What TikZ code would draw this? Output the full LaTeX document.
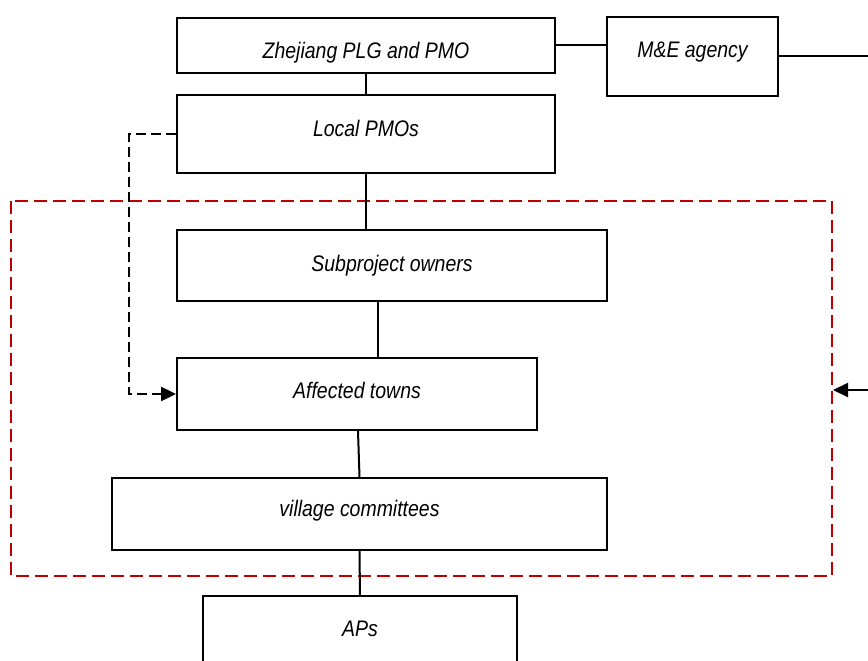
\documentclass[tikz,border=0pt]{standalone}
\usepackage{fontspec}
\setmainfont[FakeStretch=0.865]{Liberation Sans}
\usetikzlibrary{arrows.meta}
\definecolor{dred}{RGB}{192,0,0}
\newcommand{\rtxt}[2]{\raisebox{#1}[0pt][0pt]{#2}}
\begin{document}
\begin{tikzpicture}[x=1pt,y=-1pt,
 box/.style={draw=black, line width=2pt, fill=white, font=\itshape\fontsize{22.5}{24}\selectfont, inner sep=0pt, anchor=center},
 conn/.style={line width=2pt},
 dconn/.style={line width=2.4pt, dash pattern=on 10pt off 5pt},
 tip/.style={-{Triangle[length=15pt,width=14pt]}},
]
\useasboundingbox (0,0) rectangle (868,661);
\clip (0,0) rectangle (868,661);
\draw[dred, line width=1.8pt, dash pattern=on 13pt off 6pt] (11,201) rectangle (832,576);
\node[box, minimum width=378pt, minimum height=55pt] (zj) at (366,45.5) {\rtxt{-12.8pt}{Zhejiang PLG and PMO}};
\node[box, minimum width=171pt, minimum height=79pt] (me) at (692.5,56.5) {\rtxt{-1.2pt}{M\&E agency}};
\node[box, minimum width=378pt, minimum height=78pt] (lp) at (366,134) {\rtxt{-2pt}{Local PMOs}};
\node[box, minimum width=430pt, minimum height=71pt] (so) at (392,265.5) {\rtxt{-6.2pt}{Subproject owners}};
\node[box, minimum width=360pt, minimum height=72pt] (at) at (357,394) {\rtxt{-4.7pt}{Affected towns}};
\node[box, minimum width=495pt, minimum height=72pt] (vc) at (359.5,514) {\rtxt{-2.7pt}{village committees}};
\node[box, minimum width=314pt, minimum height=72pt] (ap) at (360,632) {\rtxt{-4.7pt}{APs}};
\coordinate (meout) at (890,56.5);
\coordinate (rin) at (890,390);
\coordinate (rb) at (833,390);
\coordinate (dk) at (129,394);
\draw[conn] (zj.east) -- (zj.east -| me.west);
\draw[conn] (zj.south) -- (lp.north);
\draw[conn] (me.east) -- (meout);
\draw[conn] (lp.south) -- (lp.south |- so.north);
\draw[conn] ([xshift=-14pt]so.south) -- ([xshift=21pt]at.north);
\draw[conn] ([xshift=1pt]at.south) -- (vc.north);
\draw[conn] (vc.south) -- (ap.north);
\draw[dconn, tip] (lp.west) -| (dk) -- (at.west);
\draw[conn, tip] (rin) -- (rb);
\end{tikzpicture}
\end{document}
